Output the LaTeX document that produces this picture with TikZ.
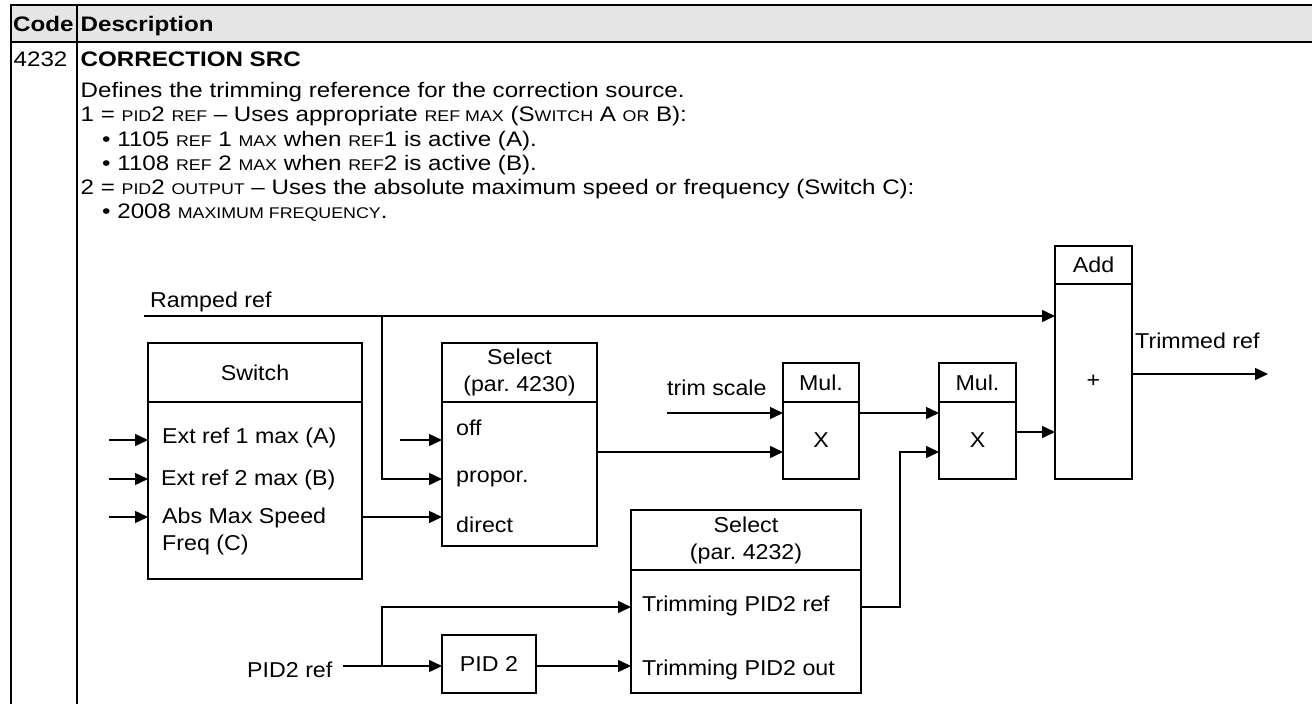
\documentclass[tikz,border=0pt]{standalone}
\usepackage{fontspec}
\setmainfont{Liberation Sans}[FakeStretch=1.08]
\newfontfamily\descfont{Liberation Sans}[FakeStretch=1.15]
\usepackage{tikz}
\usetikzlibrary{positioning,arrows.meta}

\newcommand\dsize{\fontsize{21.5}{27}\selectfont}
\newcommand\tsize{\descfont\fontsize{21}{25}\selectfont}
\newcommand\scap[1]{{\fontsize{15.5}{20}\selectfont\MakeUppercase{#1}}}

\begin{document}
\begin{tikzpicture}[x=1pt, y=-1pt,
    blk/.style={draw, rectangle, line width=1.5pt, inner sep=0pt, outer sep=0pt, align=center, font=\dsize},
    lbl/.style={inner sep=0pt, anchor=base west, font=\dsize},
    txt/.style={inner sep=0pt, anchor=base west, font=\tsize},
    wire/.style={line width=1.5pt},
    arr/.style={wire, -{Triangle[length=13pt, width=12pt]}},
    tline/.style={line width=2pt}]
    \useasboundingbox (0,0) rectangle (1312,704);

    % Table frame
    \fill[black!10] (11,5) rectangle (1312,42);
    \draw[tline] (11,5) -- (1312,5);
    \draw[tline] (11,42) -- (1312,42);
    \draw[tline] (11,4) -- (11,704);
    \draw[tline] (77,4) -- (77,704);
    \node[txt] (codehd) at (13,31) {\bfseries Code};
    \node[txt] (deschd) at (80.5,31) {\bfseries Description};

    % Parameter text
    \node[txt] (parno) at (13.5,66.7) {4232};
    \node[txt] (parname) at (80.5,66.7) {\bfseries CORRECTION SRC};
    \node[txt] (line1) at (80.5,97.3) {Defines the trimming reference for the correction source.};
    \node[txt] (line2) at (80.5,121.5) {1 = \scap{pid}2 \scap{ref} – Uses appropriate \scap{ref max} (S\scap{witch} A \scap{or} B):};
    \node[txt] (line3) at (102,146.5) {• 1105 \scap{ref} 1 \scap{max} when \scap{ref}1 is active (A).};
    \node[txt] (line4) at (102,170.7) {• 1108 \scap{ref} 2 \scap{max} when \scap{ref}2 is active (B).};
    \node[txt] (line5) at (80.5,194.5) {2 = \scap{pid}2 \scap{output} – Uses the absolute maximum speed or frequency (Switch C):};
    \node[txt] (line6) at (102,218.5) {• 2008 \scap{maximum frequency}.};

    % Blocks
    \node[blk, minimum width=214pt, minimum height=59pt] (swhead) at (255,372.5) {Switch};
    \node[blk, minimum width=214pt, minimum height=177pt, below=0pt of swhead] (swbody) {};
    \node[blk, minimum width=155pt, minimum height=59pt] (selhead) at (519.5,372.5) {Select\\(par.\ 4230)};
    \node[blk, minimum width=155pt, minimum height=144pt, below=0pt of selhead] (selbody) {};
    \node[blk, minimum width=76pt, minimum height=39pt] (mulhead) at (821,382.5) {Mul.};
    \node[blk, minimum width=76pt, minimum height=77pt, below=0pt of mulhead] (mulbody) {X};
    \node[blk, minimum width=77pt, minimum height=39pt] (mulheadb) at (977.5,382.5) {Mul.};
    \node[blk, minimum width=77pt, minimum height=77pt, below=0pt of mulheadb] (mulbodyb) {X};
    \node[blk, minimum width=77pt, minimum height=38pt] (addhead) at (1093.5,265) {Add};
    \node[blk, minimum width=77pt, minimum height=195pt, below=0pt of addhead] (addbody) {+};
    \node[blk, minimum width=230pt, minimum height=60pt] (trimhead) at (746,540) {Select\\(par.\ 4232)};
    \node[blk, minimum width=230pt, minimum height=123pt, below=0pt of trimhead] (trimbody) {};
    \node[blk, minimum width=94pt, minimum height=58pt] (pid) at (489,664) {PID 2};

    % Texts in the blocks
    \node[lbl] (swa) at (162,443) {Ext ref 1 max (A)};
    \node[lbl] (swb) at (161,485) {Ext ref 2 max (B)};
    \node[lbl] (swc) at (162,523) {Abs Max Speed};
    \node[lbl] (swd) at (162,550) {Freq (C)};
    \node[lbl] (seloff) at (456,435) {off};
    \node[lbl] (selprop) at (456,482) {propor.};
    \node[lbl] (seldir) at (456,532) {direct};
    \node[lbl] (trimref) at (642,611) {Trimming PID2 ref};
    \node[lbl] (trimout) at (642,675) {Trimming PID2 out};

    % Signal labels
    \node[lbl] (ramplbl) at (150,307) {Ramped ref};
    \node[lbl] (scalelbl) at (667,395) {trim scale};
    \node[lbl] (outlbl) at (1135,348) {Trimmed ref};
    \node[lbl] (pidlbl) at (247,677) {PID2 ref};

    % Wire ends and rows
    \coordinate (rampin) at (144,316);
    \coordinate (rampsplit) at (382,316);
    \coordinate (swinA) at (109,440);
    \coordinate (swinB) at (109,479);
    \coordinate (swinC) at (109,517);
    \coordinate (offin) at (400,440);
    \coordinate (proprow) at (0,479);
    \coordinate (selrow) at (0,452);
    \coordinate (scalein) at (667,413);
    \coordinate (addrow) at (0,432);
    \coordinate (refrow) at (0,607);
    \coordinate (bend) at (900,452);
    \coordinate (result) at (1268,374);
    \coordinate (pidin) at (343,666);
    \coordinate (pidsplit) at (382,666);

    % Connections
    \draw[wire] (rampin) -- (rampsplit);
    \draw[arr] (rampsplit) -- (addbody.west |- rampin);
    \draw[arr] (rampsplit) |- (selbody.west |- proprow);
    \draw[arr] (swinA) -- (swbody.west |- swinA);
    \draw[arr] (swinB) -- (swbody.west |- swinB);
    \draw[arr] (swinC) -- (swbody.west |- swinC);
    \draw[arr] (swbody.east |- swinC) -- (selbody.west |- swinC);
    \draw[arr] (offin) -- (selbody.west |- offin);
    \draw[arr] (selbody.east |- selrow) -- (mulbody.west |- selrow);
    \draw[arr] (scalein) -- (mulbody.west |- scalein);
    \draw[arr] (mulbody.east |- scalein) -- (mulbodyb.west |- scalein);
    \draw[arr] (trimbody.east |- refrow) -| (bend) -- (mulbodyb.west |- bend);
    \draw[arr] (mulbodyb.east |- addrow) -- (addbody.west |- addrow);
    \draw[arr] (addbody.east |- result) -- (result);
    \draw[arr] (pidin) -- (pid.west |- pidin);
    \draw[arr] (pidsplit) |- (trimbody.west |- refrow);
    \draw[arr] (pid.east |- pidin) -- (trimbody.west |- pidin);
\end{tikzpicture}
\end{document}
